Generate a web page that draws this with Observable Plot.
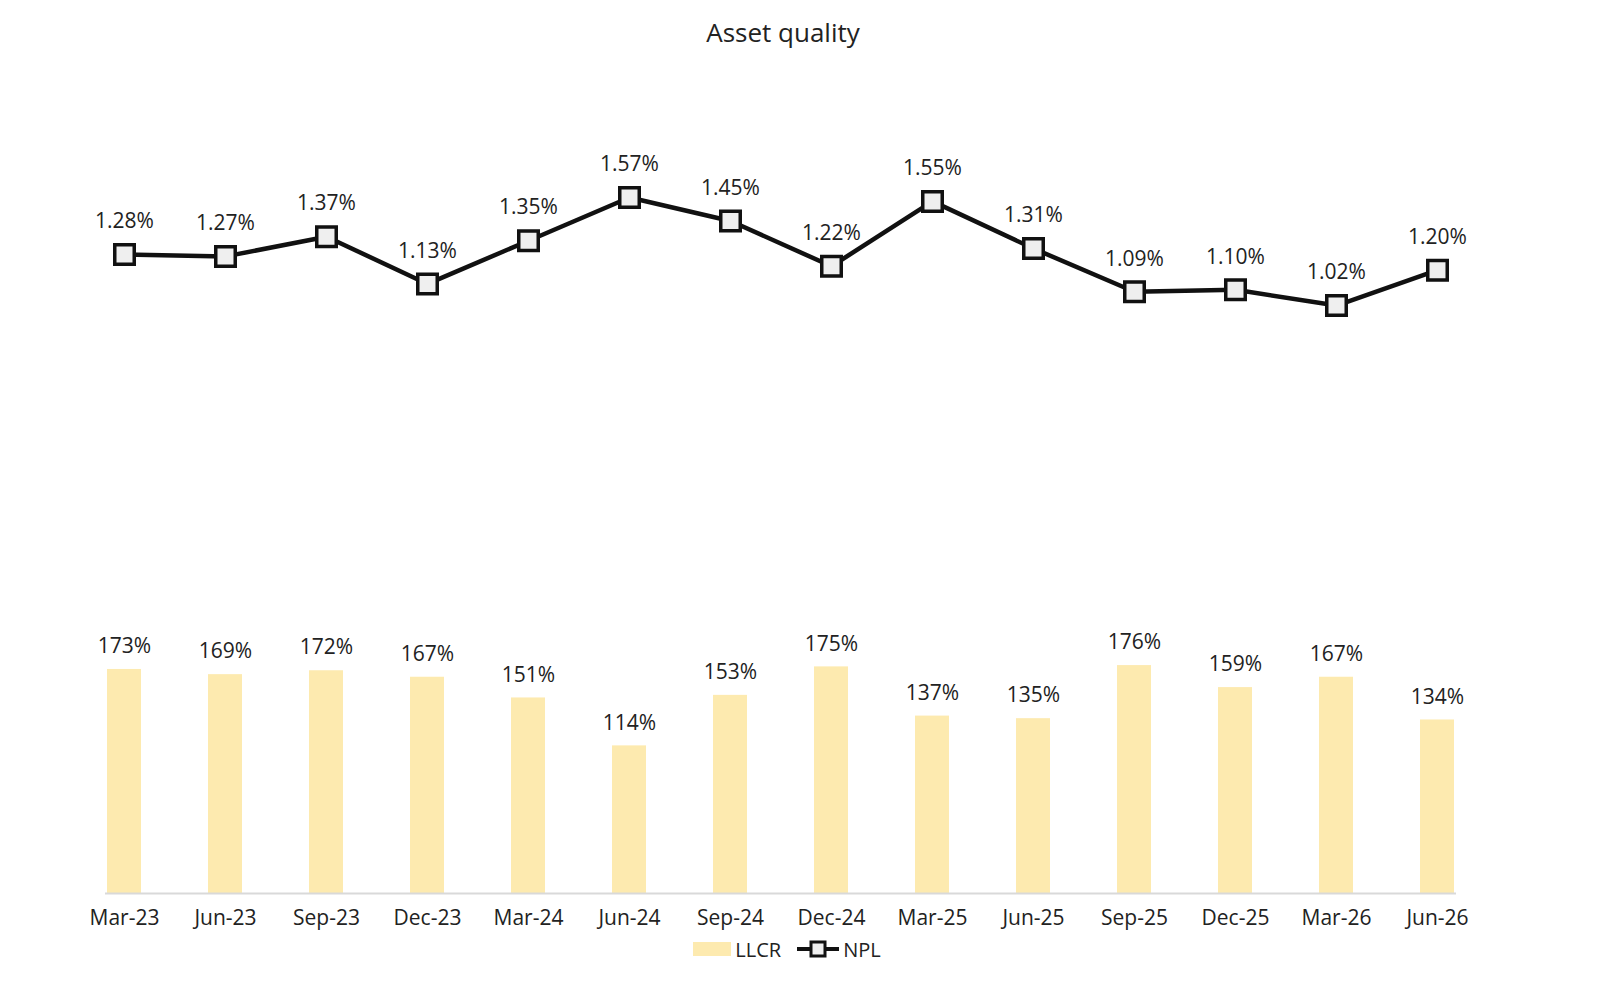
<!DOCTYPE html>
<html>
<head>
<meta charset="utf-8">
<script src="https://cdn.jsdelivr.net/npm/d3@7"></script>
<script src="https://cdn.jsdelivr.net/npm/@observablehq/plot@0.6"></script>
<style>
  html, body { margin: 0; padding: 0; background: #fff; overflow: hidden; width: 1600px; height: 1002px; }
  body { font-family: "Open Sans", sans-serif; color: #222; }
  #wrap { position: relative; width: 1600px; height: 1002px; }
  #title { position: absolute; left: 0; top: 0; width: 1566px; height: 64px; line-height: 64px; text-align: center; font-size: 26px; color: #222; }
  #base, #overlay { position: absolute; left: 0; top: 64px; width: 1600px; height: 874px; }
  #base svg, #overlay svg { display: block; max-width: none !important; width: 1600px !important; height: 874px !important; }
  #legend { position: absolute; left: 0; top: 937px; width: 1574px; height: 24px; display: flex; justify-content: center; align-items: center; font-size: 20px; color: #222; }
  #legend .item { display: flex; align-items: center; gap: 4px; }
</style>
</head>
<body>
<div id="wrap">
  <div id="title">Asset quality</div>
  <div id="base"></div>
  <div id="overlay"></div>
  <div id="legend">
    <div class="item"><svg width="38" height="14"><rect x="0" y="0" width="38" height="14" fill="#FDEAAF"></rect></svg><span>LLCR</span></div>
    <div class="item" style="margin-left:16px"><svg width="42" height="20"><line x1="0" y1="10" x2="42" y2="10" stroke="#111" stroke-width="4"></line><rect x="14" y="3" width="14" height="14" fill="#efefef" stroke="#111" stroke-width="3"></rect></svg><span>NPL</span></div>
  </div>
</div>
<script>
const quarters = ["Mar-23","Jun-23","Sep-23","Dec-23","Mar-24","Jun-24","Sep-24","Dec-24","Mar-25","Jun-25","Sep-25","Dec-25","Mar-26","Jun-26"];
const llcr = [173,169,172,167,151,114,153,175,137,135,176,159,167,134];
const npl = [1.28,1.27,1.37,1.13,1.35,1.57,1.45,1.22,1.55,1.31,1.09,1.10,1.02,1.20];

const barData = quarters.map((q, i) => ({q, v: llcr[i]}));
const lineData = quarters.map((q, i) => ({q, v: npl[i]}));

const W = 1600, H = 874, mt = 52, mb = 45, ml = 105, mr = 144;
const font = "Open Sans, sans-serif";

const xOpts = {type: "band", domain: quarters, padding: 0.664, paddingOuter: 0, align: 0.5};

const base = Plot.plot({
  width: W, height: H, marginTop: mt, marginBottom: mb, marginLeft: ml, marginRight: mr,
  style: {fontFamily: font, fontSize: "21px", color: "#222", background: "transparent"},
  x: {...xOpts, label: null, tickSize: 0, tickPadding: 17},
  y: {domain: [0, 600], axis: null},
  marks: [
    Plot.barY(barData, {x: "q", y: "v", fill: "#FDEAAF"}),
    Plot.ruleY([0], {stroke: "#d9d9d9", strokeWidth: 2}),
    Plot.text(barData, {x: "q", y: "v", text: d => d.v + "%", dy: -23, fill: "#222", fontSize: 21}),
    Plot.axisX({tickSize: 0, tickPadding: 17, label: null, fontSize: 21, fill: "#222"})
  ]
});
document.getElementById("base").appendChild(base);

const over = Plot.plot({
  width: W, height: H, marginTop: mt, marginBottom: mb, marginLeft: ml, marginRight: mr,
  style: {fontFamily: font, fontSize: "21px", color: "#222", background: "transparent"},
  x: {...xOpts, axis: null},
  y: {domain: [-1.972, 1.982], axis: null},
  marks: [
    Plot.line(lineData, {x: "q", y: "v", stroke: "#111", strokeWidth: 4.5}),
    Plot.dot(lineData, {x: "q", y: "v", symbol: "square", r: 11, fill: "#efefef", stroke: "#111", strokeWidth: 3.5}),
    Plot.text(lineData, {x: "q", y: "v", text: d => d.v.toFixed(2) + "%", dy: -33, fill: "#222", fontSize: 21})
  ]
});
document.getElementById("overlay").appendChild(over);
</script>
</body>
</html>
